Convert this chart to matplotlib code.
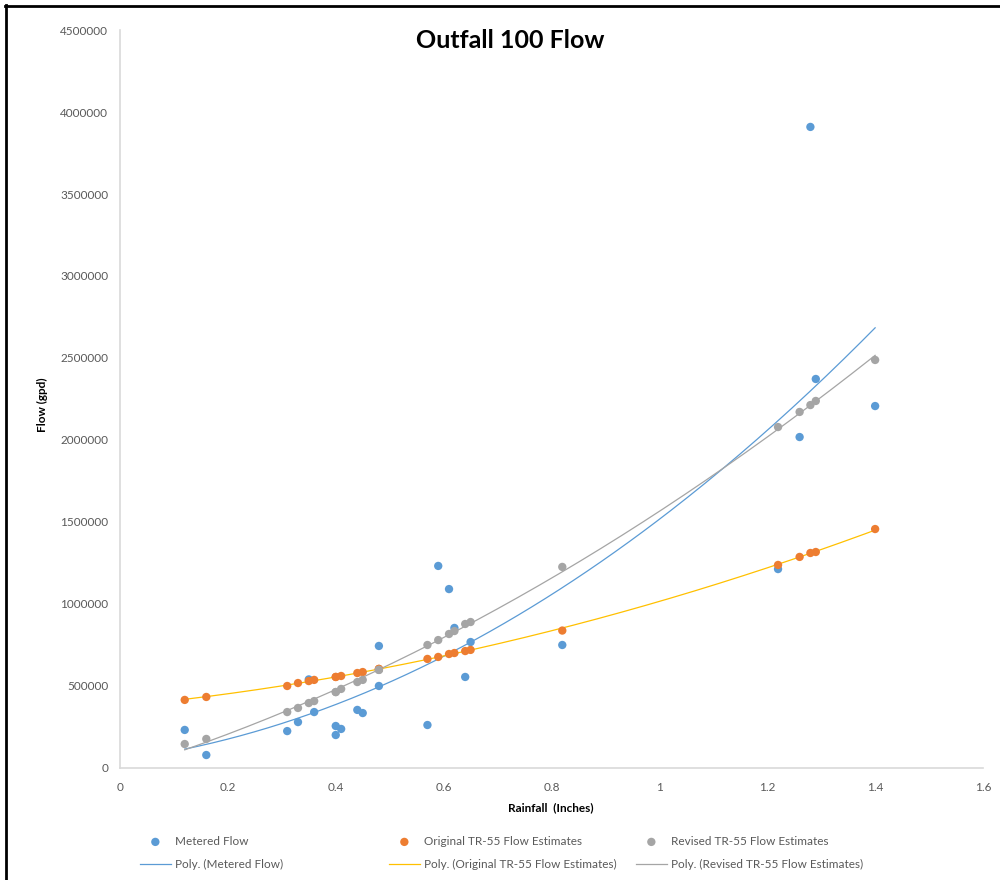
import numpy as np
import matplotlib
matplotlib.use("Agg")
import matplotlib.pyplot as plt
from matplotlib.lines import Line2D

# Rainfall events (inches) shared by all three series
rain = [0.12, 0.16, 0.31, 0.33, 0.35, 0.36, 0.40, 0.40, 0.41, 0.44, 0.45,
        0.48, 0.48, 0.57, 0.59, 0.61, 0.62, 0.64, 0.65, 0.82, 1.22, 1.26,
        1.28, 1.29, 1.40]

# Flow (gpd)
metered = [232000, 79000, 225000, 280000, 540000, 341000, 256000, 201000,
           238000, 354000, 335000, 744000, 500000, 262000, 1232000, 1091000,
           854000, 555000, 768000, 750000, 1213000, 2018000, 3909000,
           2372000, 2207000]
original_tr55 = [415000, 433000, 500000, 518000, 530000, 537000, 555000,
                 555000, 561000, 579000, 585000, 604000, 604000, 665000,
                 677000, 695000, 701000, 713000, 720000, 838000, 1238000,
                 1287000, 1311000, 1317000, 1457000]
revised_tr55 = [146000, 177000, 341000, 366000, 396000, 408000, 463000,
                463000, 482000, 524000, 537000, 598000, 598000, 750000,
                780000, 817000, 835000, 878000, 890000, 1226000, 2079000,
                2171000, 2213000, 2238000, 2488000]

x_ticks = [0, 0.2, 0.4, 0.6, 0.8, 1, 1.2, 1.4, 1.6]
x_tick_labels = ["0", "0.2", "0.4", "0.6", "0.8", "1", "1.2", "1.4", "1.6"]
y_ticks = list(range(0, 4500001, 500000))

series_names = ["Metered Flow", "Original TR-55 Flow Estimates",
                "Revised TR-55 Flow Estimates"]
point_colors = ["#5B9BD5", "#ED7D31", "#A5A5A5"]
trend_colors = ["#5B9BD5", "#FFC000", "#A5A5A5"]

plt.rcParams["font.family"] = ["Lato", "DejaVu Sans"]

fig = plt.figure(figsize=(10, 8.8), dpi=100)
ax = fig.add_axes([0.12, 0.1273, 0.863, 0.8386])

x = np.asarray(rain)
xs = np.linspace(x.min(), x.max(), 200)
scatters, trends = [], []
for name, vals, pc, tc in zip(series_names,
                              [metered, original_tr55, revised_tr55],
                              point_colors, trend_colors):
    y = np.asarray(vals, dtype=float)
    sc = ax.scatter(x, y, s=36, color=pc, edgecolors="none", zorder=3,
                    label=name)
    coef = np.polyfit(x, y, 2)
    ln, = ax.plot(xs, np.polyval(coef, xs), color=tc, lw=0.9, zorder=2,
                  label=f"Poly. ({name})")
    scatters.append(sc)
    trends.append(ln)

ax.set_xlim(0, 1.6)
ax.set_ylim(0, 4500000)
ax.set_xticks(x_ticks)
ax.set_xticklabels(x_tick_labels)
ax.set_yticks(y_ticks)
ax.set_yticklabels([str(v) for v in y_ticks])
ax.tick_params(length=0, labelsize=8.5, labelcolor="#595959")
ax.tick_params(axis="x", pad=10)
ax.tick_params(axis="y", pad=8.5)
for side in ("top", "right"):
    ax.spines[side].set_visible(False)
for side in ("left", "bottom"):
    ax.spines[side].set_color("#D9D9D9")
    ax.spines[side].set_linewidth(1.2)

fig.text(0.51, 1 - 40 / 880, "Outfall 100 Flow", ha="center", va="center",
         fontsize=18, fontweight="bold")
fig.text(0.042, 1 - 405 / 880, "Flow (gpd)", ha="center", va="center",
         rotation=90, fontsize=8.5, fontweight="bold")
fig.text(0.551, 1 - 808 / 880, "Rainfall  (Inches)", ha="center",
         va="center", fontsize=8.5, fontweight="bold")

# Legend: one two-row block per series
legend_x = [0.140, 0.389, 0.636]
for lx, sc, ln in zip(legend_x, scatters, trends):
    fig.legend(handles=[sc, ln], labels=[sc.get_label(), ln.get_label()],
               loc="upper left", bbox_to_anchor=(lx, 1 - 836 / 880),
               frameon=False, fontsize=8.5, labelcolor="#595959",
               handlelength=2.6, handletextpad=0.35, labelspacing=1.05,
               borderpad=0, borderaxespad=0, scatterpoints=1,
               markerscale=1.0)

# Outer frame edges
fig.add_artist(Line2D([0.005, 1.0], [1 - 6 / 880, 1 - 6 / 880],
                      color="black", lw=2, transform=fig.transFigure))
fig.add_artist(Line2D([0.006, 0.006], [0, 1 - 5 / 880],
                      color="black", lw=2, transform=fig.transFigure))

fig.savefig("out.png", dpi=100, facecolor="white")
